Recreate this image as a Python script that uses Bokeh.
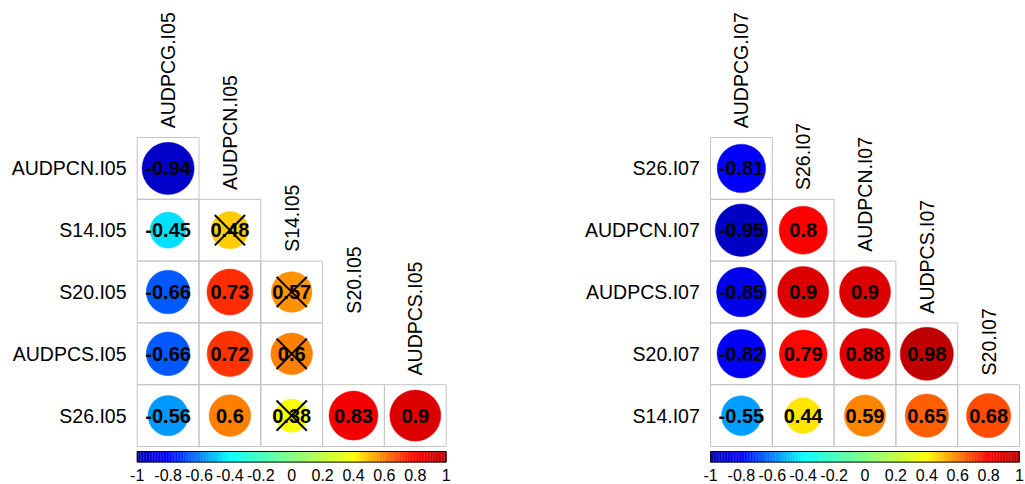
import math
from bokeh.plotting import figure
from bokeh.models import Range1d, ColumnDataSource
from bokeh.core.properties import value
from bokeh.embed import file_html
from bokeh.resources import INLINE

# ---------------- data ----------------
left_vars = ["AUDPCG.I05", "AUDPCN.I05", "S14.I05", "S20.I05", "AUDPCS.I05", "S26.I05"]
left_r = [
    [-0.94],
    [-0.45, 0.48],
    [-0.66, 0.73, 0.57],
    [-0.66, 0.72, 0.60],
    [-0.56, 0.60, 0.38, 0.83, 0.90],
]
left_nonsig = [
    [False],
    [False, True],
    [False, False, True],
    [False, False, True],
    [False, False, True, False, False],
]

right_vars = ["AUDPCG.I07", "S26.I07", "AUDPCN.I07", "AUDPCS.I07", "S20.I07", "S14.I07"]
right_r = [
    [-0.81],
    [-0.95, 0.80],
    [-0.85, 0.90, 0.90],
    [-0.82, 0.79, 0.88, 0.98],
    [-0.55, 0.44, 0.59, 0.65, 0.68],
]
right_nonsig = [[False] * len(r) for r in right_r]

legend_ticks = [-1, -0.8, -0.6, -0.4, -0.2, 0, 0.2, 0.4, 0.6, 0.8, 1]
legend_tick_labels = ["-1", "-0.8", "-0.6", "-0.4", "-0.2", "0", "0.2", "0.4", "0.6", "0.8", "1"]

# ---------------- colour scale ----------------
stop_pos = [-1.0, -0.8, -0.6, -0.4, 0.0, 0.4, 0.6, 0.8, 1.0]
stop_col = [(0, 0, 176), (0, 0, 255), (0, 127, 255), (0, 255, 255), (127, 255, 127),
            (255, 255, 0), (255, 127, 0), (255, 0, 0), (184, 0, 0)]


def corr_color(v):
    v = max(-1.0, min(1.0, v))
    for k in range(len(stop_pos) - 1):
        a, b = stop_pos[k], stop_pos[k + 1]
        if a <= v <= b:
            t = (v - a) / (b - a)
            c = [round(stop_col[k][i] + t * (stop_col[k + 1][i] - stop_col[k][i])) for i in range(3)]
            return "#%02x%02x%02x" % tuple(c)
    return "#000000"


def fmt(v):
    return ("%.2f" % v).rstrip("0").rstrip(".")


# ---------------- figure ----------------
UNIT = 61.8
W, H = 1025, 484
x0 = 0.5 - 136.7 / UNIT
y0 = 0.5 - 137.0 / UNIT
p = figure(width=W, height=H, output_backend="svg", toolbar_location=None,
           x_range=Range1d(x0, x0 + W / UNIT), y_range=Range1d(y0 + H / UNIT, y0),
           x_axis_location=None, y_axis_location=None, min_border=0)
p.xgrid.visible = False
p.ygrid.visible = False
p.outline_line_color = None
p.background_fill_color = "white"

FONT = value("Liberation Sans")
RIGHT_OFFSET = (710.0 - 136.7) / UNIT


def panel(vars_, rvals, nonsig, off):
    n = len(rvals)
    xs, ys, rs, cols, labs = [], [], [], [], []
    cx, cy = [], []
    for i, row in enumerate(rvals):
        for j, v in enumerate(row):
            xs.append(j + 1 + off)
            ys.append(i + 1)
            rs.append(0.435 * math.sqrt(abs(v)))
            cols.append(corr_color(v))
            labs.append(fmt(v))
            if nonsig[i][j]:
                cx.append(j + 1 + off)
                cy.append(i + 1)
    src = ColumnDataSource(dict(x=xs, y=ys, r=rs, c=cols, t=labs))
    # grid cells
    p.rect("x", "y", width=1, height=1, source=src, fill_color=None,
           line_color="#c4c4c4", line_width=1)
    # circles
    p.circle("x", "y", radius="r", source=src, fill_color="c", line_color="c", line_width=0.5)
    # numbers
    p.text("x", "y", text="t", source=src, text_align="center", text_baseline="middle",
           text_font=FONT, text_font_style="bold", text_font_size="20px", text_color="black")
    # crosses
    d = 0.245
    if cx:
        p.segment([a - d for a in cx], [b - d for b in cy], [a + d for a in cx], [b + d for b in cy],
                  line_color="black", line_width=2)
        p.segment([a - d for a in cx], [b + d for b in cy], [a + d for a in cx], [b - d for b in cy],
                  line_color="black", line_width=2)
    # row labels
    p.text([0.5 - 0.173 + off] * n, list(range(1, n + 1)), text=vars_[1:],
           text_align="right", text_baseline="middle", text_font=FONT,
           text_font_size="19.5px", text_color="black")
    # column labels (rotated)
    p.text([j + 1 + off for j in range(n)], [j + 0.5 - 0.15 for j in range(n)], text=vars_[:-1],
           angle=math.pi / 2, text_align="left", text_baseline="middle", text_font=FONT,
           text_font_size="19.5px", text_color="black")
    # colour legend
    nseg = 200
    span = n
    lefts, rights, cc = [], [], []
    for k in range(nseg):
        a = -1 + 2 * k / nseg
        b = -1 + 2 * (k + 1) / nseg
        lefts.append(0.5 + off + (a + 1) / 2 * span)
        rights.append(0.5 + off + (b + 1) / 2 * span)
        cc.append(corr_color((a + b) / 2))
    top = n + 0.5 + 5.0 / UNIT
    bot = n + 0.5 + 15.6 / UNIT
    p.quad(left=lefts, right=rights, top=top, bottom=bot, fill_color=cc, line_color=cc, line_width=0.3)
    p.quad(left=[0.5 + off], right=[n + 0.5 + off], top=[top], bottom=[bot],
           fill_color=None, line_color="black", line_width=1)
    p.text([0.5 + off + (t + 1) / 2 * span for t in legend_ticks], [n + 0.5 + 28.5 / UNIT] * len(legend_ticks),
           text=legend_tick_labels, text_align="center", text_baseline="middle", text_font=FONT,
           text_font_size="16px", text_color="black")


panel(left_vars, left_r, left_nonsig, 0.0)
panel(right_vars, right_r, right_nonsig, RIGHT_OFFSET)

open("out.html", "w").write(file_html(p, INLINE))
